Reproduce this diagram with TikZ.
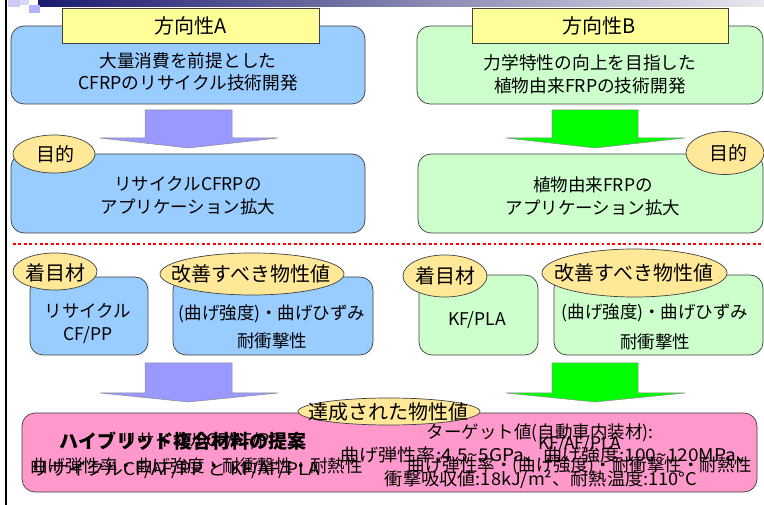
\documentclass[tikz,border=0pt]{standalone}
\usepackage{fontspec}
\setmainfont{Noto Sans CJK JP}
\usetikzlibrary{shapes.geometric}
\definecolor{boxblue}{HTML}{99CCFF}
\definecolor{boxgreen}{HTML}{CCFFCC}
\definecolor{ttlyellow}{HTML}{FFFF99}
\definecolor{tagyellow}{HTML}{FFE999}
\definecolor{boxpink}{HTML}{FF99CC}
\definecolor{arrpurple}{HTML}{9999FF}
\definecolor{arrgreen}{HTML}{00FF00}
\definecolor{hdrdark}{HTML}{1A1A6E}
\definecolor{hdrlight}{HTML}{E8E8EE}
\definecolor{edgegray}{HTML}{404040}
\newcommand{\setfz}[2]{\fontsize{#1pt}{#2pt}\selectfont}
\begin{document}
\begin{tikzpicture}[x=1pt,y=-1pt,
  bx/.style={draw=edgegray, line width=0.7pt, rounded corners=13pt, inner sep=0pt},
  blu/.style={bx, fill=boxblue},
  grn/.style={bx, fill=boxgreen},
  pnk/.style={bx, fill=boxpink},
  ttl/.style={draw=edgegray, line width=0.7pt, fill=ttlyellow, inner sep=0pt},
  tag/.style={ellipse, draw=edgegray, line width=0.7pt, fill=tagyellow, inner sep=0pt},
  txt/.style={inner sep=0pt, align=center, font=\setfz{17.5}{23}},
  bigtxt/.style={inner sep=0pt, align=center, font=\setfz{20}{24}},
  arrA/.style={fill=arrpurple, draw=black!45, line width=0.5pt},
  arrB/.style={fill=arrgreen, draw=black!45, line width=0.5pt}
]
\useasboundingbox (0,0) rectangle (764,505);
\fill[white] (0,0) rectangle (764,505);
% header
\shade[left color=hdrdark, right color=hdrlight] (38,0) rectangle (764,7);
\fill[black!25!blue!20] (8,0) rectangle (20,7);
\fill[blue!30!white] (29,5) rectangle (40,13);
\fill[blue!15!white] (20,0) rectangle (29,5);
\draw[line width=2pt] (6,0) -- (6,505);

% ---- top row
\node[blu, minimum width=354pt, minimum height=78pt] (boxA) at (188,65) {};
\node[ttl, minimum width=257pt, minimum height=35pt] (ttlA) at (190.5,25.5) {};
\node[bigtxt] (ttlAt) at (191,26) {方向性A};
\node[txt, font=\setfz{17.7}{22}] (boxAt) at (188,72) {大量消費を前提とした\\CFRPのリサイクル技術開発};

\node[grn, minimum width=346pt, minimum height=78pt] (boxB) at (590,65) {};
\node[ttl, minimum width=256pt, minimum height=35pt] (ttlB) at (600,25.5) {};
\node[bigtxt] (ttlBt) at (599,26) {方向性B};
\node[txt, font=\setfz{17.7}{23}] (boxBt) at (590,74) {力学特性の向上を目指した\\植物由来FRPの技術開発};

% arrows 1
\filldraw[arrA] (145,110) -- (232,110) -- (232,138) -- (278,138) -- (188.5,148) -- (100,138) -- (145,138) -- cycle;
\filldraw[arrB] (552,110) -- (638,110) -- (638,138) -- (685,138) -- (595,148) -- (506,138) -- (552,138) -- cycle;

% ---- second row
\node[blu, minimum width=354pt, minimum height=79pt] (boxA2) at (188,193.5) {};
\node[tag, minimum width=82pt, minimum height=38pt] (tagA) at (54,154) {};
\node[txt, font=\setfz{19}{22}] (tagAt) at (55,154) {目的};
\node[txt] (boxA2t) at (188,196) {リサイクルCFRPの\\アプリケーション拡大};

\node[grn, minimum width=345pt, minimum height=79pt] (boxB2) at (590.5,193.5) {};
\node[tag, minimum width=78pt, minimum height=43pt] (tagB) at (725,153) {};
\node[txt, font=\setfz{19}{22}] (tagBt) at (728,153) {目的};
\node[txt] (boxB2t) at (593,196) {植物由来FRPの\\アプリケーション拡大};

% separator
\coordinate (sepL) at (13,244);
\coordinate (sepR) at (764,244);
\draw[red, line width=2.8pt, dash pattern=on 2.8pt off 2.6pt] (sepL) -- (sepR);

% ---- third row left
\node[blu, minimum width=118pt, minimum height=78pt] (boxL1) at (89,316) {};
\node[tag, minimum width=84pt, minimum height=37pt] (tagL1) at (55,271.5) {};
\node[bigtxt] (tagL1t) at (55,273) {着目材};
\node[txt] (boxL1t) at (88,323.5) {リサイクル\\CF/PP};

\node[blu, minimum width=200pt, minimum height=78pt] (boxL2) at (273,316) {};
\node[tag, minimum width=184pt, minimum height=42pt] (tagL2) at (252,274) {};
\node[bigtxt] (tagL2t) at (251,274) {改善すべき物性値};
\node[txt, font=\setfz{17.5}{28}] (boxL2t) at (272,327) {(曲げ強度)・曲げひずみ\\耐衝撃性};

% ---- third row right
\node[grn, minimum width=119pt, minimum height=80pt] (boxR1) at (478.5,315) {};
\node[tag, minimum width=84pt, minimum height=42pt] (tagR1) at (445,276) {};
\node[bigtxt] (tagR1t) at (445,276) {着目材};
\node[txt] (boxR1t) at (477,320) {KF/PLA};

\node[grn, minimum width=209pt, minimum height=80pt] (boxR2) at (658.5,315) {};
\node[tag, minimum width=185pt, minimum height=48pt] (tagR2) at (634.5,273) {};
\node[bigtxt] (tagR2t) at (634,273) {改善すべき物性値};
\node[txt, font=\setfz{17.5}{30}] (boxR2t) at (655,327) {(曲げ強度)・曲げひずみ\\耐衝撃性};

% arrows 2
\filldraw[arrA] (145,363) -- (232,363) -- (232,393) -- (278,393) -- (188.5,402) -- (100,393) -- (145,393) -- cycle;
\filldraw[arrB] (552,363) -- (638,363) -- (638,393) -- (685,393) -- (595,402) -- (506,393) -- (552,393) -- cycle;

% ---- bottom box
\node[pnk, minimum width=735pt, minimum height=79pt] (boxP) at (389.5,452.5) {};
\node[tag, minimum width=182pt, minimum height=27pt] (tagP) at (389,411.5) {};
\node[bigtxt] (tagPt) at (388,412) {達成された物性値};

\node[txt, font=\setfz{19}{22}\bfseries] (hyb) at (183,441) {ハイブリッド複合材料の提案};
\node[txt, anchor=west] (hybthin) at (120,441) {リサイクルCF/AF/PP};
\node[txt, anchor=west] (leftA) at (30,466) {曲げ弾性率・曲げ強度・耐衝撃性・耐熱性};
\node[txt, anchor=west] (leftB) at (30,470) {\scalebox{1.08}[1]{リサイクルCF/AF/PP と KF/AF/PLA}};

\node[txt] (tgt) at (540,433) {ターゲット値(自動車内装材):};
\node[txt] (kfaf) at (580,444) {KF/AF/PLA};
\node[txt] (tgt1) at (548,455) {\scalebox{1.09}[1]{曲げ弾性率:4.5\textasciitilde 5GPa、曲げ強度:100\textasciitilde 120MPa、}};
\node[txt] (tgt2) at (580,466) {曲げ弾性率・(曲げ強度)・耐衝撃性・耐熱性};
\node[txt] (tgt3) at (541,479) {\scalebox{1.04}[1]{衝撃吸収値:18kJ/m²、耐熱温度:110°C}};
\end{tikzpicture}
\end{document}
